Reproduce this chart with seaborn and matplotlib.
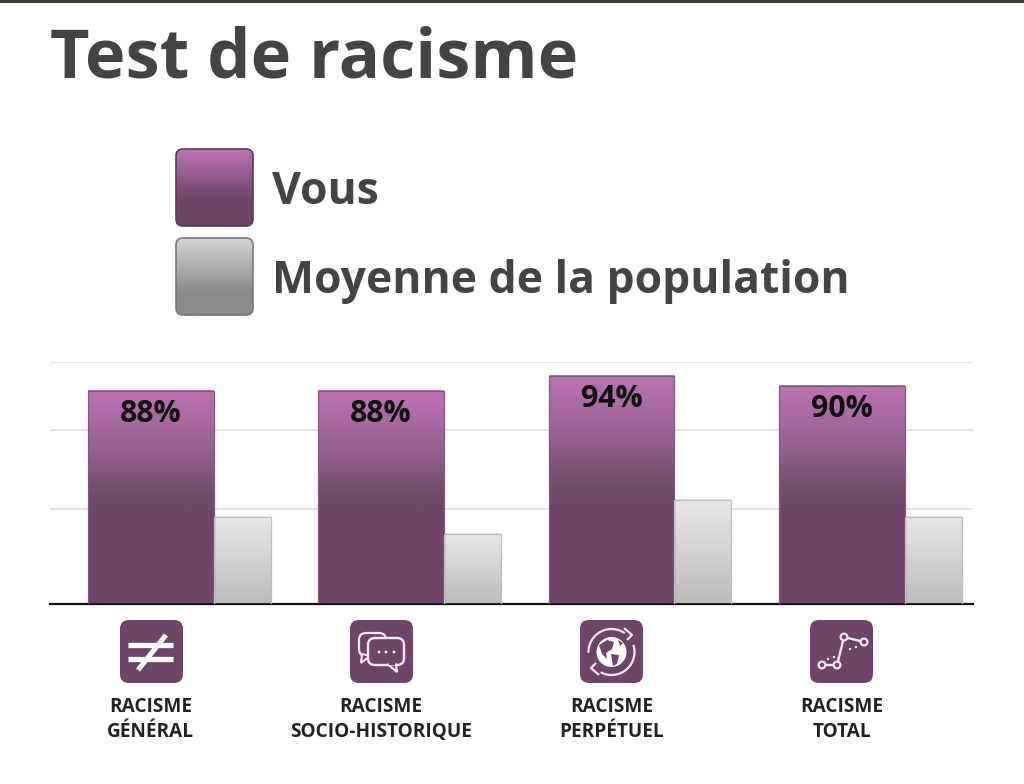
# -*- coding: utf-8 -*-
import numpy as np
import pandas as pd
import matplotlib
matplotlib.use('Agg')
import matplotlib.pyplot as plt
from matplotlib.colors import LinearSegmentedColormap
from matplotlib.patches import Circle, FancyBboxPatch, Polygon, Rectangle
import seaborn as sns

# %% Data
categories = ['RACISME\nGÉNÉRAL', 'RACISME\nSOCIO-HISTORIQUE', 'RACISME\nPERPÉTUEL', 'RACISME\nTOTAL']
vous = [88, 88, 94, 90]
moyenne = [35.7, 28.6, 42.7, 35.7]
grid_values = [39, 72, 100]
legend_labels = ['Vous', 'Moyenne de la population']
title = 'Test de racisme'

# %% Colours
purple = '#6e4569'
text_col = '#444444'
glyph = '#f3e6f1'
cmap_purple = LinearSegmentedColormap.from_list('p', [(0, '#bd73b5'), (0.28, '#95608f'), (0.5, '#6e4d69'), (0.58, purple), (1, purple)])
cmap_grey = LinearSegmentedColormap.from_list('g', ['#e8e8e8', '#bcbcbc'])
cmap_legend_purple = LinearSegmentedColormap.from_list('lp', [(0, '#bf74b7'), (0.65, '#6e4569'), (1, '#6e4569')])
cmap_legend_grey = LinearSegmentedColormap.from_list('lg', [(0, '#d4d4d4'), (0.7, '#8c8c8c'), (1, '#8c8c8c')])
ramp = np.linspace(0, 1, 256).reshape(-1, 1)

sns.set_theme(style='white')
plt.rcParams['font.family'] = ['Open Sans', 'DejaVu Sans']

W, H = 1024, 784
fig = plt.figure(figsize=(W / 100, H / 100), dpi=100, facecolor='white')
ax = fig.add_axes([50 / W, (H - 603.5) / H, 923 / W, 241.5 / H])

df = pd.DataFrame({'categorie': categories, 'vous': vous, 'moyenne': moyenne})
sns.barplot(data=df, x='categorie', y='vous', color=purple, saturation=1, ax=ax)
sns.barplot(data=df, x='categorie', y='moyenne', color='#cccccc', saturation=1, ax=ax)

# Bars have different widths in the original, so move them after seaborn placed them
def gradient_bar(bar, left, right, cmap, edge):
    bar.set_x(left)
    bar.set_width(right - left)
    bar.set_facecolor('none')
    bar.set_edgecolor(edge)
    bar.set_linewidth(0.9)
    bar.set_zorder(4)
    ax.imshow(ramp, cmap=cmap, aspect='auto', zorder=3,
              extent=(left, right, 0, bar.get_height()))

centers = []
for i, (b1, b2) in enumerate(zip(ax.containers[0], ax.containers[1])):
    shift = -0.0015 * i
    gradient_bar(b1, i - 0.336 + shift, i + 0.209 + shift, cmap_purple, '#7f5a7a')
    gradient_bar(b2, i + 0.209 + shift, i + 0.456 + shift, cmap_grey, '#bdbdbd')
    centers.append(i - 0.0635 + shift)
    ax.annotate(f'{vous[i]}%', (centers[i], vous[i]), xytext=(0, -16.5), textcoords='offset points',
                ha='center', va='center', fontsize=21.8, fontweight='bold', color='#111111', zorder=5)

ax.set_xlim(-0.5, 3.5)
ax.set_ylim(0, 100)
ax.set_xlabel('')
ax.set_ylabel('')
ax.set_yticks(grid_values)
ax.set_yticklabels([])
ax.set_xticks(centers)
ax.set_xticklabels(categories, fontsize=13.7, fontweight='bold', color='#222222', linespacing=1.31)
ax.tick_params(axis='x', length=0, pad=67.5)
ax.tick_params(axis='y', length=0)
ax.yaxis.grid(True, color='#dddddd', linewidth=1.2)
ax.set_axisbelow(True)
sns.despine(ax=ax, top=True, right=True, left=True)
ax.spines['bottom'].set_color('#111111')
ax.spines['bottom'].set_linewidth(1.6)

# %% Overlay in pixel coordinates: title, legend, icons
ov = fig.add_axes([0, 0, 1, 1], facecolor='none')
ov.set_xlim(0, W)
ov.set_ylim(H, 0)
ov.axis('off')

ov.add_patch(Rectangle((0, 0), W, 3, color='#3c3f32', lw=0))
ov.text(50, 77, title, fontsize=49.3, fontweight='bold', color=text_col, va='baseline')

for y0, label, cmap, edge in [(149, legend_labels[0], cmap_legend_purple, '#5c3a58'),
                              (238, legend_labels[1], cmap_legend_grey, '#777777')]:
    box = FancyBboxPatch((176, y0), 77, 77, boxstyle='round,pad=0,rounding_size=7',
                         facecolor='none', edgecolor=edge, linewidth=1.2, zorder=3)
    ov.add_patch(box)
    im = ov.imshow(ramp, cmap=cmap, aspect='auto', extent=(176, 253, y0 + 77, y0), zorder=2)
    im.set_clip_path(box)
    ov.text(272, y0 + 55, label, fontsize=32, fontweight='bold', color=text_col, va='baseline')

ov.set_xlim(0, W)
ov.set_ylim(H, 0)


def icon_base(x0):
    ov.add_patch(FancyBboxPatch((x0, 620), 63, 63, boxstyle='round,pad=0,rounding_size=9',
                                facecolor=purple, edgecolor='none'))


def px_line(xs, ys, lw=2.0, **kw):
    ov.plot(xs, ys, color=kw.pop('color', 'white'), lw=lw, solid_capstyle='butt', **kw)


# Not-equal sign
icon_base(120)
px_line([128, 173], [645, 645], lw=3.8)
px_line([128, 173], [659, 659], lw=3.8)
px_line([138, 166], [670, 635], lw=3.6)

# Speech bubbles
icon_base(350)
ov.add_patch(FancyBboxPatch((359, 633), 27, 23, boxstyle='round,pad=0,rounding_size=7',
                            facecolor='none', edgecolor=glyph, lw=1.6))
ov.add_patch(Polygon([(362, 654), (361, 663), (370, 656)], closed=True, facecolor=purple,
                     edgecolor=glyph, lw=1.5))
ov.add_patch(FancyBboxPatch((368, 638), 36, 27, boxstyle='round,pad=0,rounding_size=7',
                            facecolor=purple, edgecolor=glyph, lw=1.7))
ov.add_patch(Polygon([(388, 664.5), (397, 672), (396, 664.5)], closed=True, facecolor=purple,
                     edgecolor=glyph, lw=1.6))
ov.add_patch(Rectangle((389, 662), 6, 3, facecolor=purple, edgecolor='none'))
for x in [379, 386, 394]:
    ov.add_patch(Circle((x, 652), 1.5, color=glyph, lw=0))

# Globe with arrows
icon_base(580)
gx, gy = 611.5, 652
ov.add_patch(Circle((gx, gy), 15, facecolor='white', edgecolor='none'))
ov.add_patch(Polygon([(599, 645), (607, 640), (614, 642), (612, 649), (606, 653), (607, 659), (602, 654)],
                     closed=True, facecolor=purple, edgecolor='none'))
ov.add_patch(Polygon([(611, 654), (619, 655), (617, 664), (613, 666)],
                     closed=True, facecolor=purple, edgecolor='none'))
ov.add_patch(Polygon([(618, 640), (623, 643), (620, 646)], closed=True, facecolor=purple, edgecolor='none'))
t = np.radians(np.linspace(178, 305, 40))
px_line(gx + 23 * np.cos(t), gy + 23 * np.sin(t), lw=1.6, color=glyph)
t = np.radians(np.linspace(-18, 118, 40))
px_line(gx + 23 * np.cos(t), gy + 23 * np.sin(t), lw=1.6, color=glyph)
px_line([624, 632, 627], [628, 635, 640], lw=1.6, color=glyph)
px_line([599, 591, 596], [675, 668, 663], lw=1.6, color=glyph)

# Connected points
icon_base(810)
px_line([822, 837, 844, 864], [665, 665, 637, 642], lw=1.7, color=glyph)
for x, y in [(828, 659), (834, 657), (850, 649), (856, 647), (862, 644)]:
    ov.add_patch(Circle((x, y), 1.2, color=glyph, lw=0))
for x, y in [(822, 665), (837, 665), (844, 637), (864, 642)]:
    ov.add_patch(Circle((x, y), 3.4, facecolor=purple, edgecolor=glyph, lw=1.6, zorder=5))

plt.savefig('out.png', dpi=100)
